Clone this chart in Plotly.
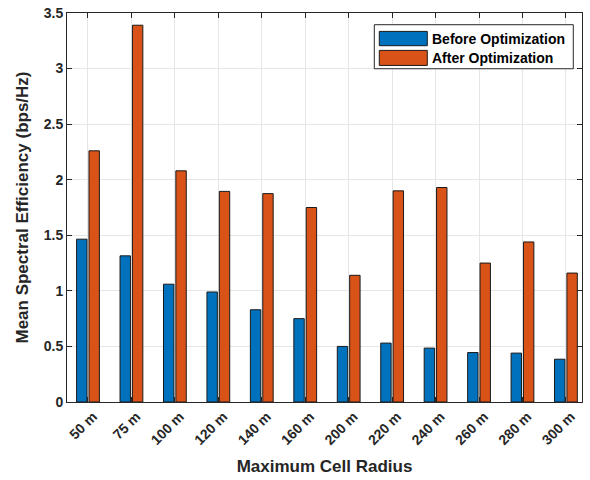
import plotly.graph_objects as go

categories = ["50 m", "75 m", "100 m", "120 m", "140 m", "160 m",
              "200 m", "220 m", "240 m", "260 m", "280 m", "300 m"]
before_opt = [1.465, 1.315, 1.06, 0.99, 0.83, 0.75, 0.50, 0.53, 0.485, 0.445, 0.44, 0.385]
after_opt = [2.26, 3.39, 2.08, 1.895, 1.875, 1.75, 1.14, 1.90, 1.93, 1.25, 1.44, 1.16]
series_names = ["Before Optimization", "After Optimization"]
series_colors = ["#0072BD", "#D95319"]
y_ticks = [0, 0.5, 1, 1.5, 2, 2.5, 3, 3.5]
y_tick_labels = ["0", "0.5", "1", "1.5", "2", "2.5", "3", "3.5"]

FONT = "Liberation Sans"
AX = "#262626"

fig = go.Figure()
for name, vals, col in zip(series_names, [before_opt, after_opt], series_colors):
    fig.add_trace(go.Bar(
        x=categories, y=vals, name=name,
        marker=dict(color=col, line=dict(color="#1a1a1a", width=1)),
    ))

# MATLAB-style legend box (wide colour swatches)
shapes = [dict(type="rect", xref="paper", yref="paper", x0=0.5967, x1=0.9831,
               y0=0.8567, y1=0.9699, fillcolor="white",
               line=dict(color=AX, width=1), layer="above")]
annotations = []
sym_y = [(0.9159, 0.9527), (0.8652, 0.9038)]
txt_y = [0.9339, 0.8850]
for i, (name, col) in enumerate(zip(series_names, series_colors)):
    shapes.append(dict(type="rect", xref="paper", yref="paper", x0=0.6064, x1=0.6996,
                       y0=sym_y[i][0], y1=sym_y[i][1], fillcolor=col,
                       line=dict(color="#1a1a1a", width=1), layer="above"))
    annotations.append(dict(xref="paper", yref="paper", x=0.7054, y=txt_y[i],
                            xanchor="left", yanchor="middle", showarrow=False,
                            text="<b>%s</b>" % name,
                            font=dict(family=FONT, size=14, color="black")))

fig.update_layout(
    width=590, height=480,
    margin=dict(l=67, r=8, t=13, b=78, autoexpand=False),
    paper_bgcolor="white", plot_bgcolor="white",
    barmode="group", bargap=0.43, bargroupgap=0.16,
    font=dict(family=FONT, size=14, color=AX),
    showlegend=False,
    shapes=shapes, annotations=annotations,
)
fig.update_xaxes(
    type="category", range=[-0.483, 11.37], automargin=False,
    tickangle=-45, tickfont=dict(family=FONT, size=14, color=AX),
    ticks="inside", ticklen=5, tickcolor=AX, ticklabelshift=5,
    showline=True, linecolor=AX, linewidth=1, mirror="allticks",
    showgrid=True, gridcolor="#e6e6e6", gridwidth=1,
    title=dict(text="<b>Maximum Cell Radius</b>", font=dict(family=FONT, size=17, color=AX), standoff=13),
    tickprefix="<b>", ticksuffix="</b>",
)
fig.update_yaxes(
    range=[0, 3.5], tickvals=y_ticks, ticktext=["<b>%s</b>" % t for t in y_tick_labels],
    automargin=False,
    tickfont=dict(family=FONT, size=14, color=AX),
    ticks="inside", ticklen=5, tickcolor=AX,
    showline=True, linecolor=AX, linewidth=1, mirror="allticks",
    showgrid=True, gridcolor="#e6e6e6", gridwidth=1, zeroline=False,
    title=dict(text="<b>Mean Spectral Efficiency (bps/Hz)</b>", font=dict(family=FONT, size=17, color=AX), standoff=10),
)

fig.write_html(
    "out.html",
    config={"displayModeBar": False},
    post_script="document.body.style.margin='0';document.body.style.overflow='hidden';",
)
